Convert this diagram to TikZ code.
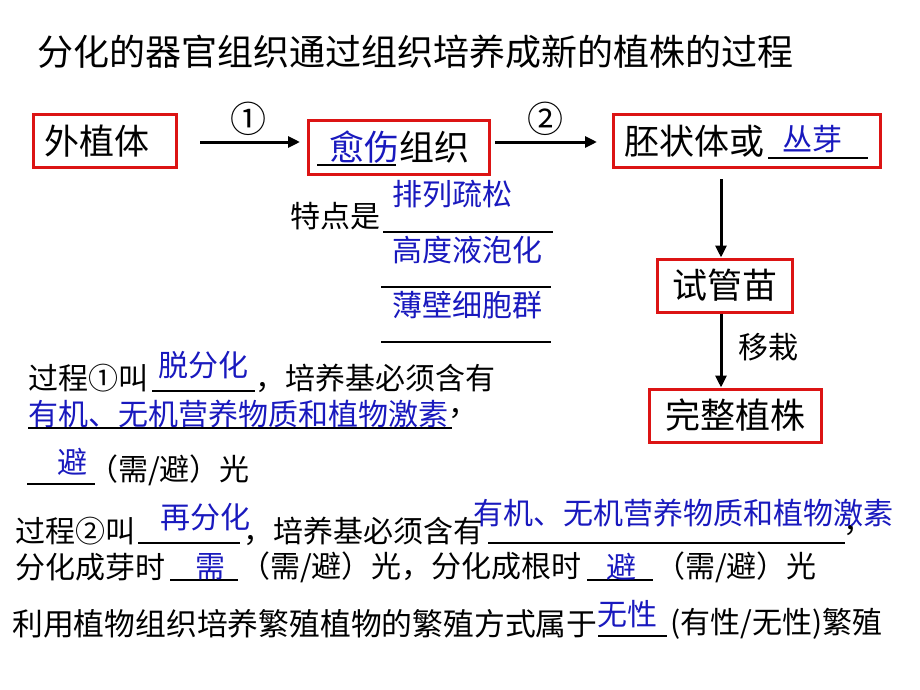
\documentclass[tikz,border=0pt]{standalone}
\usepackage{fontspec}
\setmainfont{Noto Sans CJK SC}
\usetikzlibrary{arrows.meta,calc}
\definecolor{boxred}{RGB}{220,20,20}
\definecolor{ansblue}{RGB}{25,25,190}
\newcommand{\fsz}[1]{\fontsize{#1}{#1}\selectfont}
\begin{document}
\begin{tikzpicture}[x=1pt,y=-1pt,
  box/.style={draw=boxred,line width=3pt,inner sep=0pt,font=\fsz{35}},
  txt/.style={anchor=west,inner sep=0pt,font=\fsz{30}},
  ans/.style={txt,text=ansblue},
  arr/.style={line width=3pt,-{Triangle[length=12pt,width=11pt]}},
  blank/.style={line width=2pt}]
\useasboundingbox (0,0) rectangle (920,690);
\fill[white] (0,0) rectangle (920,690);
% title
\node[txt,font=\fsz{36}] (title) at (37,52) {分化的器官组织通过组织培养成新的植株的过程};
% boxes
\node[box,minimum width=143pt,minimum height=53pt] (b1) at (105,141) {外植体\kern16pt};
\node[box,minimum width=181pt,minimum height=54pt] (b2) at (399,147.5) {\textcolor{ansblue}{愈伤}组织};
\node[box,minimum width=267pt,minimum height=53pt] (b3) at (747,141) {胚状体或\kern105pt};
\node[box,minimum width=135pt,minimum height=53pt] (b4) at (725,285.5) {试管苗};
\node[box,minimum width=172pt,minimum height=53pt] (b5) at (735,415.5) {完整植株};
\draw[blank] (317,165) -- (396,165);
\draw[line width=2.5pt] (768,158) -- (868,158);
\node[ans] (a0) at (782,139) {丛芽};
% arrows
\node[inner sep=0pt,font=\fsz{36}] (c1) at (248,119) {①};
\node[inner sep=0pt,font=\fsz{36}] (c2) at (545,119) {②};
\draw[arr] ($(b1.east)+(22,1)$) -- ($(b1.east -| b2.west)+(-7,1)$);
\draw[arr] ($(b2.east |- b1.east)+(4,1)$) -- ($(b3.west)+(-15,1)$);
\coordinate (vx) at (721,0);
\draw[arr] ($(b3.south -| vx)+(0,10)$) -- (b4.north -| vx);
\draw[arr] (b4.south -| vx) -- (b5.north -| vx);
\node[txt] (yz) at (738,347) {移栽};
% features
\node[txt] (td) at (290,216) {特点是};
\draw[blank] (383,232) -- (553,232);
\draw[blank] (381,287) -- (551,287);
\draw[blank] (381,342) -- (551,342);
\node[ans] (f1) at (392,194.5) {排列疏松};
\node[ans] (f2) at (392,250) {高度液泡化};
\node[ans] (f3) at (392,305) {薄壁细胞群};
% process 1
\node[txt] (p1a) at (28,378) {过程①叫};
\draw[blank] (152,391) -- (255,391);
\node[ans] (p1b) at (158,365) {脱分化};
\node[txt] (p1c) at (255,378) {，培养基必须含有};
\node[ans] (p1d) at (28,414) {有机、无机营养物质和植物激素};
\draw[blank] (28,428) -- (452,428);
\node[txt] (p1e) at (448,414) {，};
\draw[blank] (27,484) -- (95,484);
\node[ans] (p1f) at (57,462) {避};
\node[txt] (p1g) at (88,470) {（需/避）光};
% process 2
\node[txt] (p2a) at (15,531) {过程②叫};
\draw[blank] (138,543) -- (240,543);
\node[ans] (p2b) at (160,517) {再分化};
\node[txt] (p2c) at (243,531) {，培养基必须含有};
\draw[blank] (488,543) -- (845,543);
\node[txt] (p2d) at (843,531) {，};
\node[ans] (p2e) at (473,513) {有机、无机营养物质和植物激素};
\node[txt] (p2f) at (15,567) {分化成芽时};
\draw[blank] (170,580) -- (238,580);
\node[ans] (p2g) at (195,567) {需};
\node[txt] (p2h) at (240,567) {（需/避）光，分化成根时};
\draw[blank] (587,580) -- (653,580);
\node[ans] (p2i) at (606,567) {避};
\node[txt] (p2j) at (655,567) {（需/避）光};
% last line
\node[txt,font=\fsz{30.8}] (l1) at (12,624) {利用植物组织培养繁殖植物的繁殖方式属于};
\draw[blank] (598,636) -- (667,636);
\node[ans] (l2) at (597,614) {无性};
\node[txt] (l3) at (670,624) {(有性/无性)繁殖};
\end{tikzpicture}
\end{document}
